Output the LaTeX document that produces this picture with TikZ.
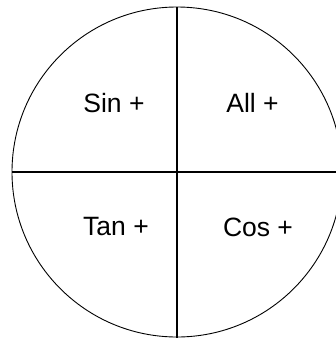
\documentclass[tikz,border=0pt]{standalone}
\usepackage{fontspec}
\setmainfont{Liberation Sans}
\begin{document}
\begin{tikzpicture}[x=1pt,y=-1pt,
  lbl/.style={font=\fontsize{26.5}{30}\selectfont, inner sep=0pt},
  axis/.style={line width=1.6pt},
  rim/.style={line width=0.9pt}]
\useasboundingbox (0,0) rectangle (336,338);
\begin{scope}
\clip (0,0) rectangle (336,338);
\draw[rim] (177,172) circle (165);
\end{scope}
\coordinate (top) at (177,7);
\coordinate (bot) at (177,338);
\coordinate (lft) at (12,172);
\coordinate (rgt) at (336,172);
\draw[axis] (top) -- (bot);
\draw[axis] (lft) -- (rgt);
\node[lbl] (sin) at (114,103) {Sin +};
\node[lbl] (all) at (252.5,103) {All +};
\node[lbl] (tan) at (116,227) {Tan +};
\node[lbl] (cos) at (258,227) {Cos +};
\end{tikzpicture}
\end{document}
